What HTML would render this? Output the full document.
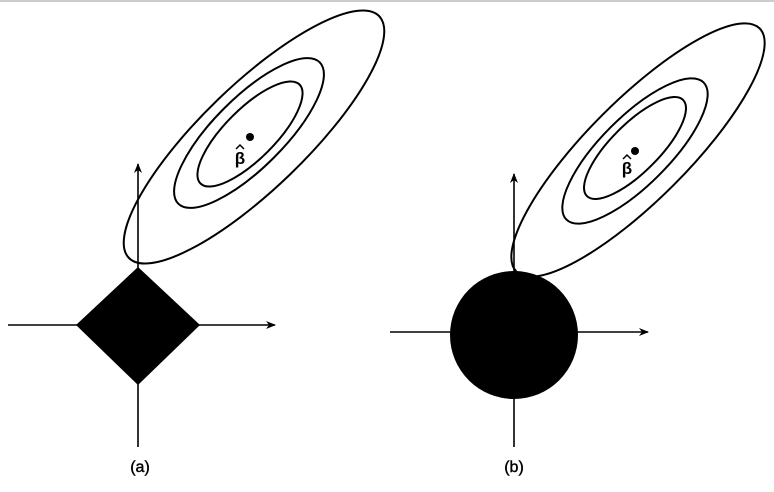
<!DOCTYPE html>
<html><head><style>html,body{margin:0;padding:0;background:#fff;}svg{display:block}</style></head>
<body>
<svg width="774" height="492" viewBox="0 0 774 492" xmlns="http://www.w3.org/2000/svg">
<defs><marker id="ar" markerWidth="10" markerHeight="8" refX="9" refY="4" orient="auto" markerUnits="userSpaceOnUse"><path d="M0,0 L10,4 L0,8 L3,4 Z" fill="#000"/></marker></defs>
<line x1="0" y1="1" x2="774" y2="1" stroke="#ccc" stroke-width="2"/>
<g stroke="#000" stroke-width="1.6" fill="none">
<line x1="138" y1="447" x2="138" y2="164" marker-end="url(#ar)"/>
<line x1="8" y1="325" x2="275" y2="325" marker-end="url(#ar)"/>
<line x1="514" y1="447" x2="514" y2="174" marker-end="url(#ar)"/>
<line x1="390" y1="332" x2="648" y2="332" marker-end="url(#ar)"/>
</g>
<polygon points="138,267 200,325 138,385 76,325" fill="#000"/>
<circle cx="514" cy="335" r="64" fill="#000"/>
<g stroke="#000" stroke-width="2" fill="none">
<ellipse cx="254" cy="137" rx="174" ry="52" transform="rotate(-44 254 137)"/>
<ellipse cx="249" cy="133" rx="100" ry="35" transform="rotate(-45 249 133)"/>
<ellipse cx="250" cy="134" rx="70" ry="25" transform="rotate(-45 250 134)"/>
<ellipse cx="638" cy="150" rx="172" ry="50" transform="rotate(-45 638 150)"/>
<ellipse cx="635" cy="151" rx="97" ry="34" transform="rotate(-45 635 151)"/>
<ellipse cx="635" cy="148" rx="68" ry="24" transform="rotate(-45 635 148)"/>
</g>
<circle cx="250" cy="137" r="4" fill="#000"/>
<circle cx="635" cy="151" r="4" fill="#000"/>
<g stroke="#000" stroke-width="1.5" fill="none">
<path d="M236,149 L240,145 L244,149"/>
<path d="M623,159 L627,155 L631,159"/>
</g>
<g font-family="Liberation Sans, sans-serif" font-weight="bold" fill="#000">
<text x="240" y="164" font-size="17" text-anchor="middle">β</text>
<text x="627" y="174" font-size="17" text-anchor="middle">β</text>
<text x="140" y="472" font-size="16" text-anchor="middle" font-weight="normal" stroke="#000" stroke-width="0.4">(a)</text>
<text x="514" y="472" font-size="16" text-anchor="middle" font-weight="normal" stroke="#000" stroke-width="0.4">(b)</text>
</g>
</svg>
</body></html>
